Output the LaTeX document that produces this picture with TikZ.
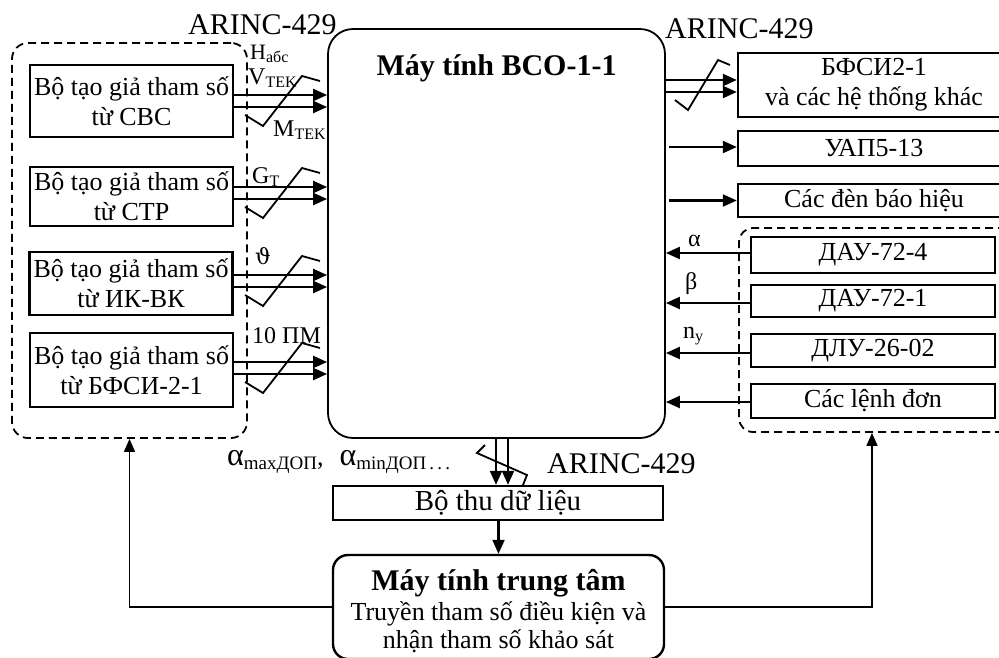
\documentclass[tikz,border=0pt]{standalone}
\usepackage{fontspec}
\setmainfont{Liberation Serif}
\newfontfamily\symfont{DejaVu Serif}
\usetikzlibrary{arrows.meta}
\newcommand{\lo}[1]{\raisebox{-0.35ex}{\fontsize{16}{16}\selectfont #1}}
\newcommand{\loB}[1]{\raisebox{-0.4ex}{\fontsize{19}{19}\selectfont #1}}
\begin{document}
\begin{tikzpicture}[x=1pt,y=-1pt,
  box/.style={draw, line width=2.4pt, inner sep=0pt, align=center, font=\fontsize{26}{30}\selectfont},
  dbox/.style={draw, line width=1.8pt, dash pattern=on 8pt off 5pt, rounded corners=16pt, inner sep=0pt},
  arr/.style={line width=2.2pt, -{Triangle[length=14pt,width=12pt]}},
  thinarr/.style={line width=1.5pt, -{Triangle[length=13pt,width=11pt]}},
  bus/.style={line width=1.8pt},
  lab/.style={font=\fontsize{24}{24}\selectfont, inner sep=0pt, anchor=base west},
  big/.style={font=\fontsize{30}{30}\selectfont, inner sep=0pt, anchor=base west},
  bold/.style={font=\fontsize{30}{30}\selectfont\bfseries, inner sep=0pt, anchor=base},
  txt/.style={font=\fontsize{26}{26}\selectfont, inner sep=0pt, anchor=base}
]
\useasboundingbox (0,0) rectangle (999,657);
\clip (0,0) rectangle (999,657);

% main computer
\node[draw, line width=1.8pt, rounded corners=25pt, minimum width=337pt, minimum height=409pt, inner sep=0pt] (M) at (496.5,233.5) {};
\node[bold] (Mt) at (496.5,75) {Máy tính BCO-1-1};

% left group
\node[dbox, minimum width=235pt, minimum height=395pt] (LC) at (129.5,240.5) {};
\node[box, minimum width=203pt, minimum height=72pt] (B1) at (131.5,101) {Bộ tạo giả tham số\\từ СВС};
\node[box, minimum width=203pt, minimum height=59pt] (B2) at (131.5,196.5) {Bộ tạo giả tham số\\từ СТР};
\node[box, minimum width=203pt, minimum height=63pt] (B3) at (131,283.5) {Bộ tạo giả tham số\\từ ИК-ВК};
\node[box, minimum width=203pt, minimum height=74pt] (B4) at (131.5,370) {Bộ tạo giả tham số\\từ БФСИ-2-1};

% right outputs
\node[box, minimum width=272pt, minimum height=64pt] (R1) at (874,85) {БФСИ2-1\\và các hệ thống khác};
\node[box, minimum width=272pt, minimum height=35pt] (R2) at (874,148.5) {УАП5-13};
\node[box, minimum width=272pt, minimum height=33pt] (R3) at (874,200.5) {Các đèn báo hiệu};

% right sensors group
\node[dbox, rounded corners=14pt, minimum width=281pt, minimum height=204pt] (RC) at (879.5,330) {};
\node[box, minimum width=244pt, minimum height=36pt] (D1) at (873,255) {ДАУ-72-4};
\node[box, minimum width=244pt, minimum height=32pt] (D2) at (873,301) {ДАУ-72-1};
\node[box, minimum width=244pt, minimum height=33pt] (D3) at (873,350.5) {ДЛУ-26-02};
\node[box, minimum width=244pt, minimum height=34pt] (D4) at (873,401) {Các lệnh đơn};

% bottom
\node[box, minimum width=330pt, minimum height=34pt, font=\fontsize{29}{29}\selectfont] (BT) at (498,503) {Bộ thu dữ liệu};
\node[draw, line width=2.4pt, rounded corners=15pt, minimum width=331pt, minimum height=104pt, inner sep=0pt] (MT) at (498.5,607) {};
\node[bold] (MTa) at (498.5,590) {Máy tính trung tâm};
\node[txt] (MTb) at (498.5,620) {Truyền tham số điều kiện và};
\node[txt] (MTc) at (498.5,648) {nhận tham số khảo sát};

% ARINC labels
\node[big] (A1) at (188,34) {ARINC-429};
\node[big] (A2) at (665,38) {ARINC-429};
\node[big] (A3) at (547,473) {ARINC-429};

% left arrows
\draw[arr] ([yshift=6pt]B1.east) -- ([yshift=6pt]B1.east -| M.west);
\draw[arr] ([yshift=-6pt]B1.east) -- ([yshift=-6pt]B1.east -| M.west);
\draw[arr] ([yshift=9.5pt]B2.east) -- ([yshift=9.5pt]B2.east -| M.west);
\draw[arr] ([yshift=-2.5pt]B2.east) -- ([yshift=-2.5pt]B2.east -| M.west);
\draw[arr] ([yshift=8.5pt]B3.east) -- ([yshift=8.5pt]B3.east -| M.west);
\draw[arr] ([yshift=-3.5pt]B3.east) -- ([yshift=-3.5pt]B3.east -| M.west);
\draw[arr] ([yshift=8pt]B4.east) -- ([yshift=8pt]B4.east -| M.west);
\draw[arr] ([yshift=-4pt]B4.east) -- ([yshift=-4pt]B4.east -| M.west);

% bus marks left
\foreach \yc in {101,193,281,368}{
  \draw[bus] (245,\yc+14) -- (263,\yc+25) -- (302,\yc-25) -- (320,\yc-20);
}

% left labels
\node[lab, font=\fontsize{22}{22}\selectfont] (Lh) at (250,59) {H\lo{абс}};
\node[lab] (Lv) at (248,84) {V\lo{TEK}};
\node[lab] (Lm) at (273,136) {M\lo{TEK}};
\node[lab] (Lg) at (252,183) {G\lo{T}};
\node[lab] (Lt) at (255,264) {{\symfont\fontsize{22}{22}\selectfont ϑ}};
\node[lab] (Lp) at (252,343) {10 ПМ};

% right outputs arrows
\draw[arr] ([yshift=5pt]R1.west -| M.east) -- ([yshift=5pt]R1.west);
\draw[arr] ([yshift=-7pt]R1.west -| M.east) -- ([yshift=-7pt]R1.west);
\draw[bus] (675,100) -- (688,110) -- (718,60) -- (730,65);
\draw[arr] ([xshift=3pt,yshift=1.5pt]R2.west -| M.east) -- ([yshift=1.5pt]R2.west);
\draw[arr] ([xshift=3pt]R3.west -| M.east) -- (R3.west);

% sensor arrows
\draw[arr] ([yshift=2pt]D1.west) -- ([yshift=2pt]D1.west -| M.east);
\draw[arr] ([yshift=-2pt]D2.west) -- ([yshift=-2pt]D2.west -| M.east);
\draw[arr] ([yshift=-2.5pt]D3.west) -- ([yshift=-2.5pt]D3.west -| M.east);
\draw[arr] ([yshift=-1pt]D4.west) -- ([yshift=-1pt]D4.west -| M.east);
\node[lab] (La) at (688,246) {α};
\node[lab] (Lb) at (685,289) {β};
\node[lab] (Ln) at (683,338) {n\lo{y}};

% bottom bus
\draw[arr] ([xshift=-0.5pt]M.south) -- ([xshift=-0.5pt]M.south |- BT.north);
\draw[arr] ([xshift=11.5pt]M.south) -- ([xshift=11.5pt]M.south |- BT.north);
\draw[bus] (485,445) -- (477,453) -- (527,475) -- (523,485);
\node[inner sep=0pt, anchor=base west, font=\fontsize{26}{26}\selectfont] (Lal) at (227,465)
  {{\fontsize{32}{32}\selectfont α}\loB{maxДОП},\hspace{16pt}{\fontsize{32}{32}\selectfont α}\loB{minДОП\,.\,.\,.}};

\draw[arr] (BT.south -| MT.north) -- (MT.north);

% feedback
\draw[thinarr] (MT.west) -| (LC.south);
\draw[thinarr] (MT.east) -| ([xshift=-7.5pt]RC.south);
\end{tikzpicture}
\end{document}
